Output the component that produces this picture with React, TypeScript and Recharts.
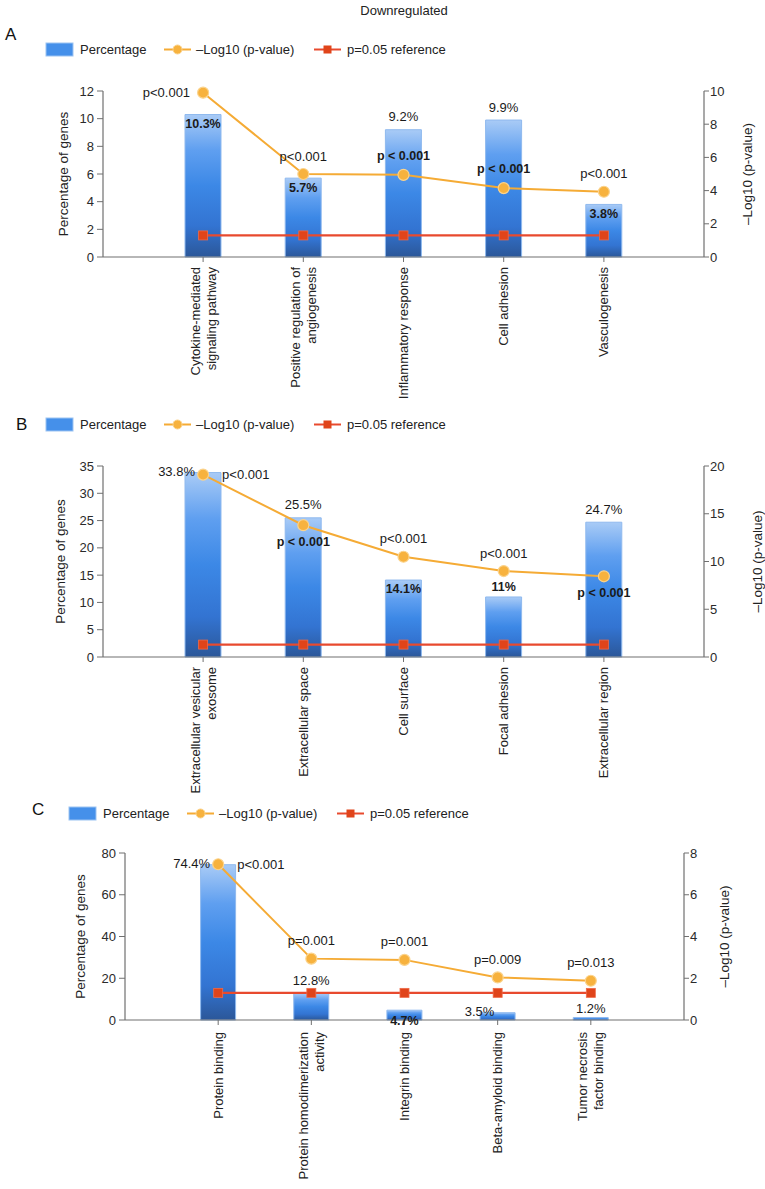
import React from 'react';
import { ComposedChart, Bar, Line, XAxis, YAxis, Legend, LabelList, Label } from 'recharts';

const FONT = "'Liberation Sans', Arial, Helvetica, sans-serif";

// ---------- Panel A (biological process) ----------
const catA = ['Cytokine-mediated\nsignaling pathway', 'Positive regulation of\nangiogenesis', 'Inflammatory response', 'Cell adhesion', 'Vasculogenesis'];
const pctA = [10.3, 5.7, 9.2, 9.9, 3.8];
const logA = [9.9, 5.0, 4.95, 4.15, 3.93];
const cutA = [1.3, 1.3, 1.3, 1.3, 1.3];
const pTextA = ['p<0.001', 'p<0.001', 'p < 0.001', 'p < 0.001', 'p<0.001'];
const leftTicksA = [0, 2, 4, 6, 8, 10, 12];
const rightTicksA = [0, 2, 4, 6, 8, 10];

// ---------- Panel B (cellular component) ----------
const catB = ['Extracellular vesicular\nexosome', 'Extracellular space', 'Cell surface', 'Focal adhesion', 'Extracellular region'];
const pctB = [33.8, 25.5, 14.1, 11, 24.7];
const logB = [19.1, 13.8, 10.5, 9.0, 8.45];
const cutB = [1.3, 1.3, 1.3, 1.3, 1.3];
const pTextB = ['p<0.001', 'p < 0.001', 'p<0.001', 'p<0.001', 'p < 0.001'];
const leftTicksB = [0, 5, 10, 15, 20, 25, 30, 35];
const rightTicksB = [0, 5, 10, 15, 20];

// ---------- Panel C (molecular function) ----------
const catC = ['Protein binding', 'Protein homodimerization\nactivity', 'Integrin binding', 'Beta-amyloid binding', 'Tumor necrosis\nfactor binding'];
const pctC = [74.4, 12.8, 4.7, 3.5, 1.2];
const logC = [7.46, 2.94, 2.88, 2.04, 1.88];
const cutC = [1.3, 1.3, 1.3, 1.3, 1.3];
const pTextC = ['p<0.001', 'p=0.001', 'p=0.001', 'p=0.009', 'p=0.013'];
const leftTicksC = [0, 20, 40, 60, 80];
const rightTicksC = [0, 2, 4, 6, 8];

const seriesNames = ['Percentage', '\u2013Log10 (p-value)', 'p=0.05 reference'];

// label placement styles (not data)
const pctModeA = ['in', 'in', 'top', 'top', 'in'];
const pModeA = ['left', 'above', 'aboveBold', 'aboveBold', 'above'];
const pctModeB = ['side', 'top', 'in', 'topBold', 'top'];
const pModeB = ['right', 'below', 'above', 'above', 'below'];
const pctModeC = ['side', 'top', 'axis', 'sideTop', 'topNear'];
const pModeC = ['right', 'above', 'above', 'above', 'above'];

const build = (cats: string[], pct: number[], logp: number[], cut: number[], p: string[]) =>
  cats.map((name, i) => ({ name, pct: pct[i], logp: logp[i], cutoff: cut[i], ptext: p[i] }));

const dataA = build(catA, pctA, logA, cutA, pTextA);
const dataB = build(catB, pctB, logB, cutB, pTextB);
const dataC = build(catC, pctC, logC, cutC, pTextC);

const BAR_TXT = '#1a1a1a';

const makePctLabel = (modes: string[]) => (props: any) => {
  const { x, y, width, height, value, index } = props;
  const mode = modes[index];
  const cx = Number(x) + Number(width) / 2;
  const top = Number(y);
  let tx = cx;
  let ty = top;
  let anchor: any = 'middle';
  let bold = false;
  switch (mode) {
    case 'in': ty = top + 9; bold = true; break;
    case 'top': ty = top - 13; break;
    case 'topBold': ty = top - 10; bold = true; break;
    case 'topNear': ty = top - 9; break;
    case 'side': tx = cx - 8; ty = top - 1; anchor = 'end'; break;
    case 'axis': ty = top + Number(height) + 1; bold = true; break;
    case 'sideTop': tx = cx - 18; ty = top - 1; break;
    default: break;
  }
  return (
    <text key={`pl-${index}`} x={tx} y={ty} dy="0.35em" textAnchor={anchor} fontFamily={FONT}
      fontSize={bold ? 12.5 : 13} fontWeight={bold ? 700 : 400} fill={BAR_TXT}>
      {`${value}%`}
    </text>
  );
};

const makePLabel = (modes: string[]) => (props: any) => {
  const { x, y, value, index } = props;
  const mode = modes[index];
  let tx = Number(x);
  let ty = Number(y);
  let anchor: any = 'middle';
  let bold = false;
  switch (mode) {
    case 'left': tx -= 13; anchor = 'end'; break;
    case 'right': tx += 19; anchor = 'start'; break;
    case 'above': ty -= 18; break;
    case 'aboveBold': ty -= 19; bold = true; break;
    case 'below': ty += 16; bold = true; break;
    default: break;
  }
  return (
    <text key={`pv-${index}`} x={tx} y={ty} dy="0.35em" textAnchor={anchor} fontFamily={FONT}
      fontSize={bold ? 12.5 : 13} fontWeight={bold ? 700 : 400} fill={BAR_TXT}>
      {value}
    </text>
  );
};

const renderCatTick = (props: any) => {
  const { x, y, payload, index } = props;
  const lines = String(payload.value).split('\n');
  const lh = 16;
  const start = -((lines.length - 1) * lh) / 2;
  return (
    <g key={`ct-${index}`} transform={`translate(${x},${y})`}>
      <text transform="rotate(-90)" textAnchor="end" fontSize={13} fill="#222" fontFamily={FONT}>
        {lines.map((l, i) => (
          <tspan key={i} x={0} y={start + i * lh + 4.5}>{l}</tspan>
        ))}
      </text>
    </g>
  );
};

const axisTitle = (text: string, dx: number) => (props: any) => {
  const vb = props.viewBox || {};
  const cx = vb.x + dx;
  const cy = vb.y + vb.height / 2;
  return (
    <text x={cx} y={cy} transform={`rotate(-90, ${cx}, ${cy})`} textAnchor="middle" dy="0.35em"
      fontFamily={FONT} fontSize={13.5} fill="#222">
      {text}
    </text>
  );
};

const renderSquareDot = (props: any) => {
  const { cx, cy, index } = props;
  if (cx == null || cy == null) return <g key={`sq-${index}`} />;
  return <rect key={`sq-${index}`} x={cx - 4.5} y={cy - 4.5} width={9} height={9} fill="#e0441a" stroke="#ee6a48" strokeWidth={0.8} />;
};

const renderLegend = () => (
  <svg width={470} height={20} style={{ display: 'block', overflow: 'visible' }}>
    <rect x={0} y={3} width={27} height={13} fill="#4590ea" stroke="#9cc3f2" strokeWidth={1} />
    <text x={34} y={14} fontFamily={FONT} fontSize={13} fill="#222">{seriesNames[0]}</text>
    <line x1={118} x2={145} y1={9.5} y2={9.5} stroke="#f5ab35" strokeWidth={2} />
    <circle cx={131.5} cy={9.5} r={4.5} fill="#f7b23e" stroke="#fbd38c" strokeWidth={1} />
    <text x={150} y={14} fontFamily={FONT} fontSize={13} fill="#222">{seriesNames[1]}</text>
    <line x1={268} x2={295} y1={9.5} y2={9.5} stroke="#e84a2e" strokeWidth={2} />
    <rect x={277.5} y={5.5} width={8} height={8} fill="#e0441a" />
    <text x={301} y={14} fontFamily={FONT} fontSize={13} fill="#222">{seriesNames[2]}</text>
  </svg>
);

function domainOf(t: number[]): [number, number] {
  return [t[0], t[t.length - 1]];
}

const Panel = (p: any) => {
  const gid = `barGrad${p.pid}`;
  const axisColor = '#707070';
  const tickStyle = { fontSize: 13, fill: '#2a2a2a', fontFamily: FONT };
  return (
    <div style={{ position: 'absolute', left: 0, top: p.top }}>
      <ComposedChart width={765} height={p.height} data={p.data} margin={p.margin}>
        <defs>
          <linearGradient id={gid} x1="0" y1="0" x2="0" y2="1">
            <stop offset="0%" stopColor="#a9cbf6" />
            <stop offset="25%" stopColor="#5f9ff0" />
            <stop offset="50%" stopColor="#3c88e6" />
            <stop offset="78%" stopColor="#3374d2" />
            <stop offset="100%" stopColor="#2b5799" />
          </linearGradient>
        </defs>
        <Legend verticalAlign="middle" align="center" layout="horizontal"
          wrapperStyle={{ top: p.legendTop, left: p.legendLeft, width: 470, height: 20 }}
          content={renderLegend} />
        <XAxis dataKey="name" type="category" padding={{ left: p.padding, right: p.padding }}
          height={p.xAxisHeight} interval={0} tick={renderCatTick} tickSize={5} tickMargin={p.tickMargin}
          axisLine={{ stroke: axisColor, strokeWidth: 1.2 }} tickLine={{ stroke: axisColor }} />
        <YAxis yAxisId="left" orientation="left" width={60} domain={domainOf(p.leftTicks)}
          ticks={p.leftTicks} interval={0} tickSize={6} tickMargin={3} tick={tickStyle}
          axisLine={{ stroke: axisColor, strokeWidth: 1.2 }} tickLine={{ stroke: axisColor }}>
          <Label content={axisTitle('Percentage of genes', p.leftDx)} />
        </YAxis>
        <YAxis yAxisId="right" orientation="right" width={60} domain={domainOf(p.rightTicks)}
          ticks={p.rightTicks} interval={0} tickSize={5} tickMargin={1} tick={tickStyle}
          axisLine={{ stroke: axisColor, strokeWidth: 1.2 }} tickLine={{ stroke: axisColor }}>
          <Label content={axisTitle('\u2013Log10 (p-value)', p.rightDx)} />
        </YAxis>
        <Bar yAxisId="left" dataKey="pct" name={seriesNames[0]} barSize={p.barSize} fill={`url(#${gid})`}
          stroke="#8fb9ee" strokeWidth={1} isAnimationActive={false}>
          <LabelList dataKey="pct" content={makePctLabel(p.pctModes)} />
        </Bar>
        <Line yAxisId="right" dataKey="cutoff" name={seriesNames[2]} stroke="#e84a2e" strokeWidth={2.2}
          dot={renderSquareDot} activeDot={false} isAnimationActive={false} />
        <Line yAxisId="right" dataKey="logp" name={seriesNames[1]} stroke="#f5ab35" strokeWidth={2}
          dot={{ r: 5.5, fill: '#f7b23e', stroke: '#fbd38c', strokeWidth: 1.2 }} activeDot={false} isAnimationActive={false}>
          <LabelList dataKey="ptext" content={makePLabel(p.pModes)} />
        </Line>
      </ComposedChart>
    </div>
  );
};

export default function App() {
  return (
    <div style={{ position: 'absolute', left: 0, top: 0, width: 765, height: 1189, background: '#fff', fontFamily: FONT }}>
      <Panel pid="A" data={dataA} top={0} height={400}
        margin={{ top: 91, right: 1, bottom: 13, left: 43 }} padding={50} barSize={36}
        xAxisHeight={130} tickMargin={5} leftTicks={leftTicksA} rightTicks={rightTicksA}
        leftDx={20} rightDx={43.5} legendTop={40} legendLeft={45.5}
        pctModes={pctModeA} pModes={pModeA} />
      <Panel pid="B" data={dataB} top={400} height={410}
        margin={{ top: 66, right: 1, bottom: 23, left: 43 }} padding={50} barSize={36}
        xAxisHeight={130} tickMargin={5} leftTicks={leftTicksB} rightTicks={rightTicksB}
        leftDx={17} rightDx={53} legendTop={15} legendLeft={45.5}
        pctModes={pctModeB} pModes={pModeB} />
      <Panel pid="C" data={dataC} top={790} height={399}
        margin={{ top: 63, right: 21, bottom: 19, left: 65 }} padding={46.6} barSize={35}
        xAxisHeight={150} tickMargin={7} leftTicks={leftTicksC} rightTicks={rightTicksC}
        leftDx={15} rightDx={40} legendTop={14} legendLeft={68.5}
        pctModes={pctModeC} pModes={pModeC} />
      <svg width={765} height={1189} style={{ position: 'absolute', left: 0, top: 0, pointerEvents: 'none' }}>
        <text x={404} y={15} textAnchor="middle" fontFamily={FONT} fontSize={13} fill="#222">Downregulated</text>
        <text x={5} y={40} fontFamily={FONT} fontSize={17} fill="#111">A</text>
        <text x={16} y={430} fontFamily={FONT} fontSize={17} fill="#111">B</text>
        <text x={32} y={815} fontFamily={FONT} fontSize={17} fill="#111">C</text>
      </svg>
    </div>
  );
}
